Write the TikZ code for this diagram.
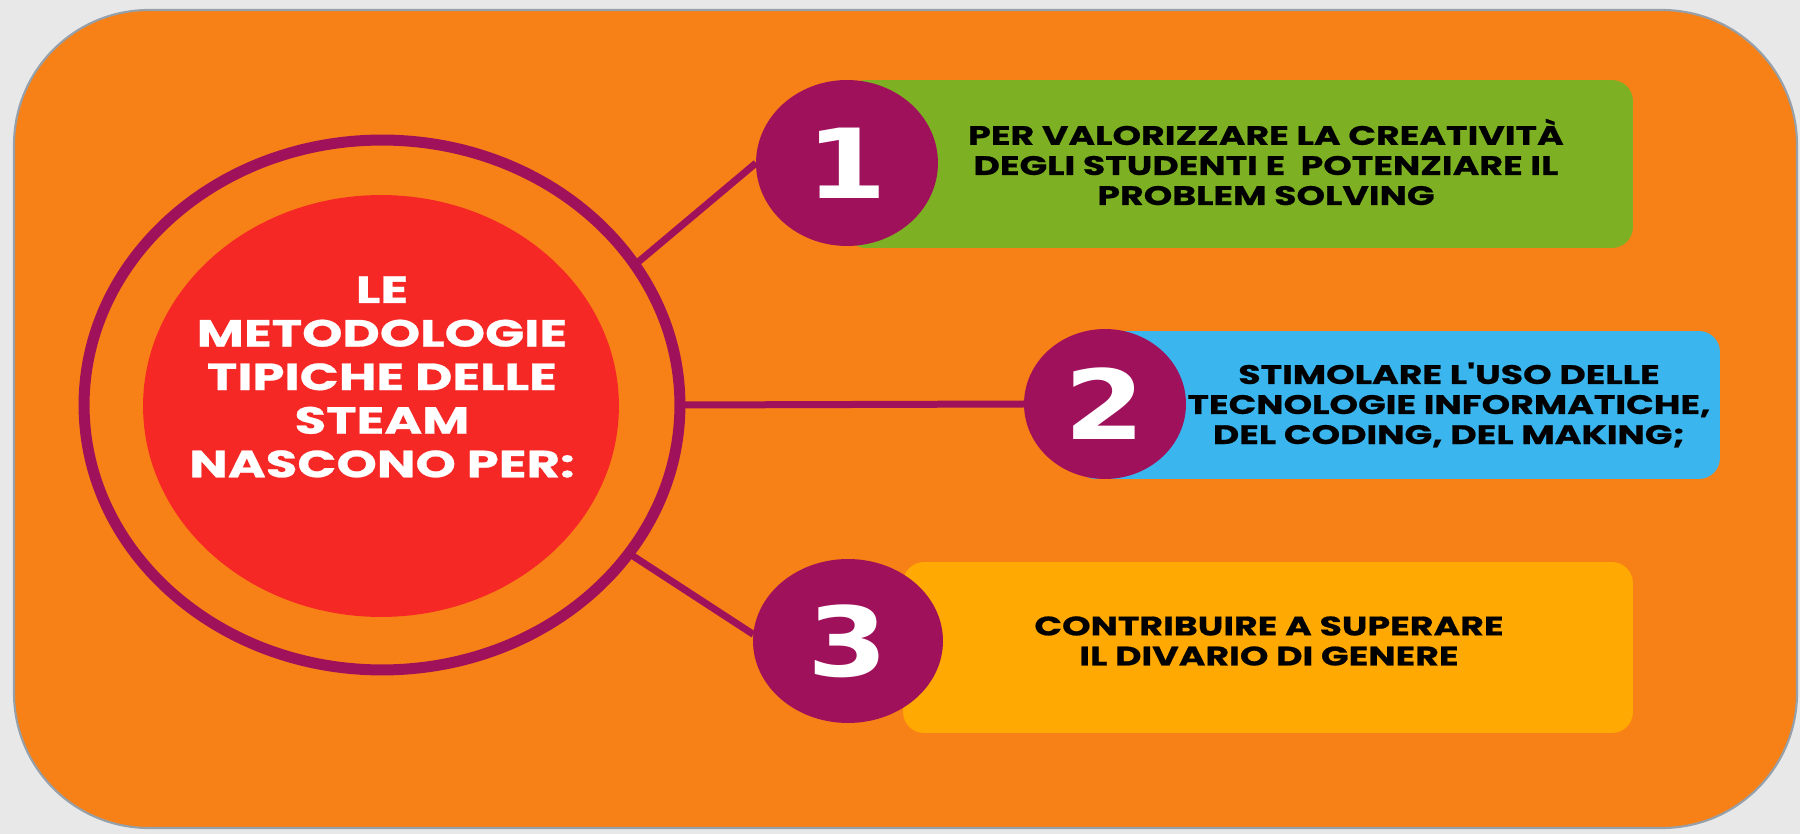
\documentclass[tikz,border=0pt]{standalone}
\usepackage{fontspec}
\usetikzlibrary{shapes.geometric}
\newfontfamily\popb{Poppins}[FakeStretch=1.36, BoldFeatures={FakeBold=0.7}]
\newfontfamily\djv{DejaVu Sans}[FakeStretch=1.2]
\definecolor{bggray}{RGB}{232,232,232}
\definecolor{edgegray}{RGB}{150,160,170}
\definecolor{mainorange}{RGB}{247,129,22}
\definecolor{ringpurple}{RGB}{160,17,92}
\definecolor{diskred}{RGB}{246,40,38}
\definecolor{boxgreen}{RGB}{125,176,34}
\definecolor{boxblue}{RGB}{58,181,238}
\definecolor{boxyellow}{RGB}{255,169,2}
\begin{document}
\begin{tikzpicture}[x=0.02cm,y=-0.02cm,
  itembox/.style={rectangle, rounded corners=0.42cm, inner sep=0pt, outer sep=0pt},
  numcircle/.style={ellipse, fill=ringpurple, inner sep=0pt, outer sep=0pt, text=white,
    font=\djv\bfseries\fontsize{55}{55}\selectfont},
  boxtext/.style={align=center, text=black, inner sep=0pt,
    font=\popb\bfseries\fontsize{15.2}{17.1}\selectfont},
  conn/.style={draw=ringpurple, line width=0.14cm}
]
\useasboundingbox (0,0) rectangle (1800,834);
\fill[bggray] (0,0) rectangle (1800,834);
\draw[edgegray, line width=1.2pt, fill=mainorange, rounded corners=2.7cm] (14,10) rectangle (1797,828);

% item boxes
\node[itembox, fill=boxgreen, minimum width=15.76cm, minimum height=3.36cm] (b1) at (1239,164) {};
\node[itembox, fill=boxblue, minimum width=12.9cm, minimum height=2.96cm] (b2) at (1397.5,405) {};
\node[itembox, fill=boxyellow, minimum width=14.6cm, minimum height=3.42cm] (b3) at (1268,647.5) {};

% central ring and disk
\node[ellipse, draw=ringpurple, line width=0.22cm, minimum width=11.92cm, minimum height=10.6cm, inner sep=0pt, outer sep=0pt] (ring) at (382,405) {};
\node[ellipse, fill=diskred, minimum width=9.52cm, minimum height=8.44cm, inner sep=0pt] (disk) at (381,406) {};
\node[align=center, text=white, inner sep=0pt, font=\popb\bfseries\fontsize{21.5}{24.8}\selectfont] (title) at (382,377)
  {LE\\METODOLOGIE\\TIPICHE DELLE\\STEAM\\NASCONO PER:};

% numbered circles
\node[numcircle, minimum width=3.64cm, minimum height=3.32cm] (c1) at (847,163) {1};
\node[numcircle, minimum width=3.24cm, minimum height=3.0cm] (c2) at (1105,404) {2};
\node[numcircle, minimum width=3.8cm, minimum height=3.28cm] (c3) at (848,641) {3};

% connectors
\draw[conn] (ring.29) -- (c1.180);
\draw[conn] (ring.0) -- (c2.180);
\draw[conn] (ring.-31) -- (c3.176);

% box texts
\node[boxtext] (t1) at (1266,162) {PER VALORIZZARE LA CREATIVIT\`A\\DEGLI STUDENTI E\ \ POTENZIARE IL\\PROBLEM SOLVING};
\node[boxtext] (t2) at (1449,405) {STIMOLARE L'USO DELLE\\TECNOLOGIE INFORMATICHE,\\DEL CODING, DEL MAKING;};
\node[boxtext] (t3) at (1269,641) {CONTRIBUIRE A SUPERARE\\IL DIVARIO DI GENERE};
\end{tikzpicture}
\end{document}
